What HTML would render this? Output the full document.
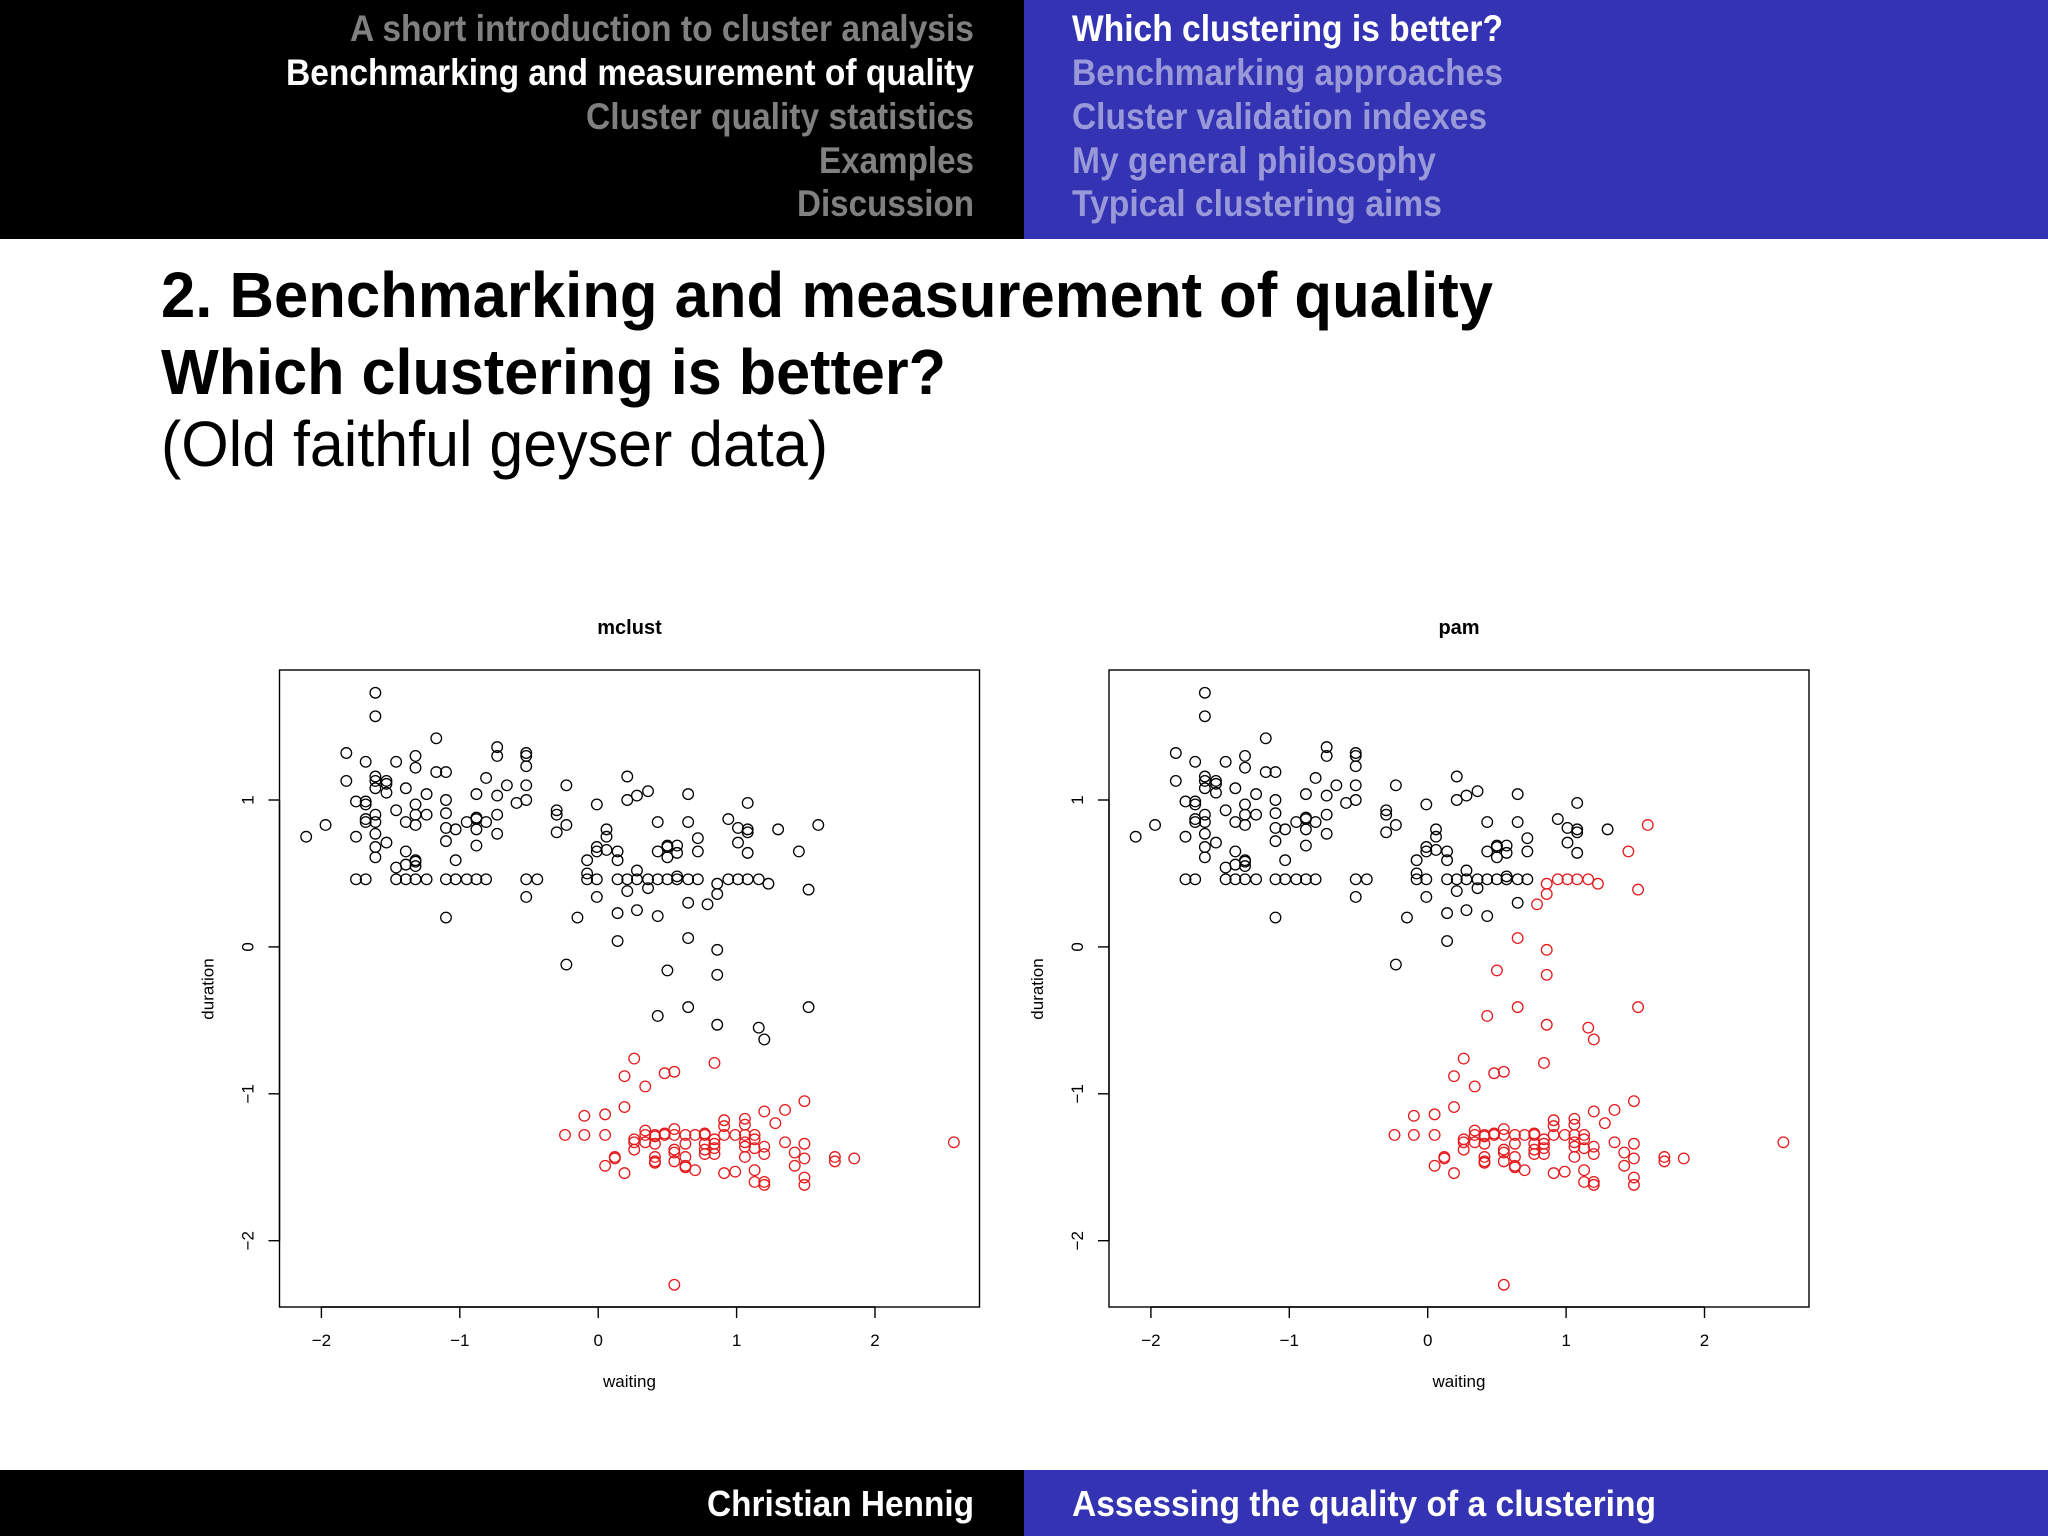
<!DOCTYPE html>
<html><head><meta charset="utf-8"><style>
html,body{margin:0;padding:0;background:#fff}
svg{display:block}
text{font-family:"Liberation Sans",Arial,sans-serif}
</style></head><body>
<svg id="root" width="2048" height="1536" viewBox="0 0 2048 1536" xmlns="http://www.w3.org/2000/svg">
<rect x="0" y="0" width="1024" height="239" fill="#000"/>
<rect x="1024" y="0" width="1024" height="239" fill="#3333b3"/>
<g font-weight="bold" font-size="37" text-anchor="end">
<text x="974" y="41" fill="#808080" textLength="624" lengthAdjust="spacingAndGlyphs">A short introduction to cluster analysis</text>
<text x="974" y="85" fill="#fff" textLength="688" lengthAdjust="spacingAndGlyphs">Benchmarking and measurement of quality</text>
<text x="974" y="129" fill="#808080" textLength="388" lengthAdjust="spacingAndGlyphs">Cluster quality statistics</text>
<text x="974" y="173" fill="#808080" textLength="155" lengthAdjust="spacingAndGlyphs">Examples</text>
<text x="974" y="216" fill="#808080" textLength="177" lengthAdjust="spacingAndGlyphs">Discussion</text>
</g>
<g font-weight="bold" font-size="37">
<text x="1072" y="41" fill="#fff" textLength="431" lengthAdjust="spacingAndGlyphs">Which clustering is better?</text>
<text x="1072" y="85" fill="#9999d9" textLength="431" lengthAdjust="spacingAndGlyphs">Benchmarking approaches</text>
<text x="1072" y="129" fill="#9999d9" textLength="415" lengthAdjust="spacingAndGlyphs">Cluster validation indexes</text>
<text x="1072" y="173" fill="#9999d9" textLength="364" lengthAdjust="spacingAndGlyphs">My general philosophy</text>
<text x="1072" y="216" fill="#9999d9" textLength="370" lengthAdjust="spacingAndGlyphs">Typical clustering aims</text>
</g>
<text x="161" y="317" font-size="64" font-weight="bold" textLength="1332" lengthAdjust="spacingAndGlyphs">2. Benchmarking and measurement of quality</text>
<text x="161" y="394" font-size="64" font-weight="bold" textLength="785" lengthAdjust="spacingAndGlyphs">Which clustering is better?</text>
<text x="161" y="466" font-size="64" textLength="667" lengthAdjust="spacingAndGlyphs">(Old faithful geyser data)</text>
<rect x="0" y="1470" width="1024" height="66" fill="#000"/>
<rect x="1024" y="1470" width="1024" height="66" fill="#3333b3"/>
<text x="974" y="1516" font-size="36" font-weight="bold" fill="#fff" text-anchor="end" textLength="267" lengthAdjust="spacingAndGlyphs">Christian Hennig</text>
<text x="1072" y="1516" font-size="36" font-weight="bold" fill="#fff" textLength="584" lengthAdjust="spacingAndGlyphs">Assessing the quality of a clustering</text>
<g id="plots"></g>
</svg>
<script>
const xTicks = [-2, -1, 0, 1, 2];
const yTicks = [-2, -1, 0, 1];
const xTickLabels = ["\u22122", "\u22121", "0", "1", "2"];
const yTickLabels = ["\u22122", "\u22121", "0", "1"];
const mclustBlack = [
[-1.61,1.73],[-1.61,1.57],[-1.17,1.42],[-1.82,1.32],[-0.73,1.36],[-0.73,1.30],[-0.52,1.32],[-0.52,1.30],[-0.52,1.23],
[-1.68,1.26],[-1.46,1.26],[-1.32,1.30],[-1.32,1.22],[-1.17,1.19],[-1.10,1.19],[-1.82,1.13],[-1.61,1.16],[-1.61,1.13],
[-1.61,1.08],[-1.53,1.13],[-1.53,1.11],[-1.53,1.05],[-1.39,1.08],[-1.24,1.04],[-0.81,1.15],[-0.66,1.10],[-0.52,1.10],
[-0.23,1.10],[0.21,1.16],[-1.75,0.99],[-1.68,0.99],[-1.68,0.97],[-1.10,1.00],[-0.88,1.04],[-0.73,1.03],[-0.59,0.98],
[-0.52,1.00],[0.21,1.00],[0.28,1.03],[0.36,1.06],[0.65,1.04],[1.08,0.98],[-1.46,0.93],[-1.32,0.97],[-0.30,0.93],
[-0.30,0.90],[-0.01,0.97],[-1.97,0.83],[-2.11,0.75],[-1.68,0.87],[-1.68,0.85],[-1.61,0.90],[-1.61,0.85],[-1.39,0.85],
[-1.32,0.90],[-1.32,0.83],[-1.24,0.90],[-1.10,0.91],[-1.10,0.81],[-0.95,0.85],[-0.88,0.88],[-0.88,0.87],[-0.88,0.80],
[-0.81,0.85],[-0.73,0.90],[-0.73,0.77],[-1.03,0.80],[-0.23,0.83],[-0.30,0.78],[0.06,0.80],[0.06,0.75],[0.43,0.85],
[0.65,0.85],[0.94,0.87],[1.01,0.81],[1.08,0.80],[1.08,0.78],[1.30,0.80],[1.59,0.83],[-1.75,0.75],[-1.61,0.77],
[-1.53,0.71],[-1.61,0.68],[-1.61,0.61],[-1.10,0.72],[-0.88,0.69],[-1.39,0.65],[-1.32,0.59],[-1.32,0.58],[-1.32,0.55],
[-1.39,0.56],[-1.46,0.54],[-1.03,0.59],[-0.01,0.68],[-0.01,0.65],[0.06,0.66],[0.14,0.65],[0.43,0.65],[0.50,0.69],
[0.50,0.68],[0.50,0.61],[0.57,0.69],[0.57,0.64],[0.72,0.74],[0.72,0.65],[1.01,0.71],[1.08,0.64],[1.45,0.65],
[-0.08,0.59],[0.14,0.59],[0.28,0.52],
[-1.75,0.46],[-1.68,0.46],[-1.46,0.46],[-1.39,0.46],[-1.32,0.46],[-1.24,0.46],[-1.10,0.46],[-1.03,0.46],[-0.95,0.46],
[-0.88,0.46],[-0.81,0.46],[-0.52,0.46],[-0.44,0.46],[-0.08,0.46],[-0.01,0.46],[0.14,0.46],[0.21,0.46],[0.28,0.46],
[0.36,0.46],[0.43,0.46],[0.50,0.46],[0.57,0.46],[0.65,0.46],[0.72,0.46],[0.94,0.46],[1.01,0.46],[1.08,0.46],[1.16,0.46],
[-0.08,0.50],[0.57,0.48],[0.86,0.43],[1.23,0.43],
[-0.52,0.34],[-0.01,0.34],[0.21,0.38],[0.36,0.40],[0.86,0.36],[1.52,0.39],[0.65,0.30],[0.79,0.29],
[-1.10,0.20],[-0.15,0.20],[0.14,0.23],[0.28,0.25],[0.43,0.21],[0.14,0.04],[0.65,0.06],[0.86,-0.02],
[-0.23,-0.12],[0.50,-0.16],[0.86,-0.19],[0.43,-0.47],[0.65,-0.41],[1.52,-0.41],[0.86,-0.53],[1.16,-0.55],[1.20,-0.63]
];
const mclustRed = [
[0.26,-0.76],[0.19,-0.88],[0.48,-0.86],[0.55,-0.85],[0.84,-0.79],[0.34,-0.95],[0.19,-1.09],[-0.10,-1.15],[0.05,-1.14],
[1.49,-1.05],[1.20,-1.12],[1.35,-1.11],[1.28,-1.20],[0.91,-1.18],[0.91,-1.22],[1.06,-1.17],[1.06,-1.21],
[-0.24,-1.28],[-0.10,-1.28],[0.05,-1.28],[0.34,-1.28],[0.41,-1.28],[0.48,-1.28],[0.55,-1.28],[0.63,-1.28],[0.70,-1.28],
[0.77,-1.28],[0.91,-1.28],[0.99,-1.28],[1.06,-1.28],[1.13,-1.28],
[0.34,-1.25],[0.55,-1.24],[0.77,-1.27],[0.48,-1.27],[0.41,-1.29],
[0.26,-1.31],[0.26,-1.33],[0.34,-1.33],[0.41,-1.34],[0.63,-1.34],[0.77,-1.34],[0.84,-1.31],[0.84,-1.34],[1.06,-1.33],
[1.13,-1.31],[1.06,-1.36],[1.20,-1.36],[1.35,-1.33],[1.49,-1.34],
[0.26,-1.38],[0.55,-1.38],[0.77,-1.38],[0.84,-1.37],[0.55,-1.40],[0.77,-1.41],[0.84,-1.41],[1.13,-1.37],[1.20,-1.41],[1.42,-1.40],
[0.12,-1.43],[0.12,-1.44],[0.41,-1.43],[0.41,-1.46],[0.41,-1.47],[0.55,-1.46],[0.63,-1.43],[0.63,-1.49],[0.63,-1.50],
[0.70,-1.52],[1.06,-1.43],[1.49,-1.44],[1.71,-1.43],[1.71,-1.46],[1.85,-1.44],[2.57,-1.33],
[0.05,-1.49],[0.19,-1.54],[0.91,-1.54],[0.99,-1.53],[1.13,-1.52],[1.42,-1.49],[1.13,-1.60],[1.20,-1.60],[1.20,-1.62],
[1.49,-1.57],[1.49,-1.62],[0.55,-2.30]
];
const pamMoved = [
[0.94,0.46],[1.01,0.46],[1.08,0.46],[1.16,0.46],[0.86,0.43],[1.23,0.43],[0.86,0.36],[1.52,0.39],[0.79,0.29],
[1.45,0.65],[1.59,0.83],[0.65,0.06],[0.86,-0.02],[0.50,-0.16],[0.86,-0.19],[0.43,-0.47],[0.65,-0.41],[1.52,-0.41],
[0.86,-0.53],[1.16,-0.55],[1.20,-0.63]
];
const isMoved = p => pamMoved.some(q => q[0] === p[0] && q[1] === p[1]);
const pamBlack = mclustBlack.filter(p => !isMoved(p));
const pamRed = mclustRed.concat(pamMoved);

const NS = "http://www.w3.org/2000/svg";
const plotsG = document.getElementById("plots");
function mk(tag, attrs, parent) {
  const e = document.createElementNS(NS, tag);
  for (const k in attrs) e.setAttribute(k, attrs[k]);
  parent.appendChild(e);
  return e;
}
const boxW = 700, boxTop = 670, boxBottom = 1307;
const xUnit = 138.4, yUnit = 146.9, y0 = 946.9;
function drawPlot(left, title, black, red, name) {
  const g = mk("g", {}, plotsG);
  
  
  const x0 = left + 318.7;
  const xs = v => x0 + v * xUnit;
  const ys = v => y0 - v * yUnit;
  const t = mk("text", {x: left + boxW / 2, y: 634, "font-size": 20, "font-weight": "bold", "text-anchor": "middle"}, g);
  t.textContent = title;
  
  
  const box = mk("rect", {x: left, y: boxTop, width: boxW, height: boxBottom - boxTop, fill: "none", stroke: "#000", "stroke-width": 1.4}, g);
  
  
  const xa = mk("g", {}, g);
  
  
  mk("line", {x1: xs(xTicks[0]), x2: xs(xTicks[xTicks.length - 1]), y1: boxBottom, y2: boxBottom, stroke: "#000", "stroke-width": 1.4}, xa);
  xTicks.forEach((v, i) => {
    mk("line", {x1: xs(v), x2: xs(v), y1: boxBottom, y2: boxBottom + 11, stroke: "#000", "stroke-width": 1.4}, xa);
    const l = mk("text", {x: xs(v), y: 1346, "font-size": 17, "text-anchor": "middle"}, xa);
    l.textContent = xTickLabels[i];
    
    
  });
  const xl = mk("text", {x: left + boxW / 2, y: 1387, "font-size": 17, "text-anchor": "middle"}, g);
  xl.textContent = "waiting";
  
  
  const ya = mk("g", {}, g);
  
  
  mk("line", {x1: left, x2: left, y1: ys(yTicks[0]), y2: ys(yTicks[yTicks.length - 1]), stroke: "#000", "stroke-width": 1.4}, ya);
  yTicks.forEach((v, i) => {
    mk("line", {x1: left, x2: left - 11, y1: ys(v), y2: ys(v), stroke: "#000", "stroke-width": 1.4}, ya);
    const lx = left - 26;
    const l = mk("text", {x: lx, y: ys(v), "font-size": 17, "text-anchor": "middle", transform: `rotate(-90 ${lx} ${ys(v)})`}, ya);
    l.textContent = yTickLabels[i];
    
    
  });
  const yx = left - 66, yy = 989;
  const yl = mk("text", {x: yx, y: yy, "font-size": 17, "text-anchor": "middle", transform: `rotate(-90 ${yx} ${yy})`}, g);
  yl.textContent = "duration";
  
  
  [[black, "#000", "cluster-1"], [red, "#e41a1c", "cluster-2"]].forEach(([pts, col, cn]) => {
    const sg = mk("g", {}, g);
    
    
    pts.forEach(p => {
      const c = mk("circle", {cx: xs(p[0]), cy: ys(p[1]), r: 5.3, fill: "none", stroke: col, "stroke-width": 1.3}, sg);
      
      
    });
  });
}
drawPlot(279.5, "mclust", mclustBlack, mclustRed, "mclust");
drawPlot(1109, "pam", pamBlack, pamRed, "pam");
</script>
</body></html>
